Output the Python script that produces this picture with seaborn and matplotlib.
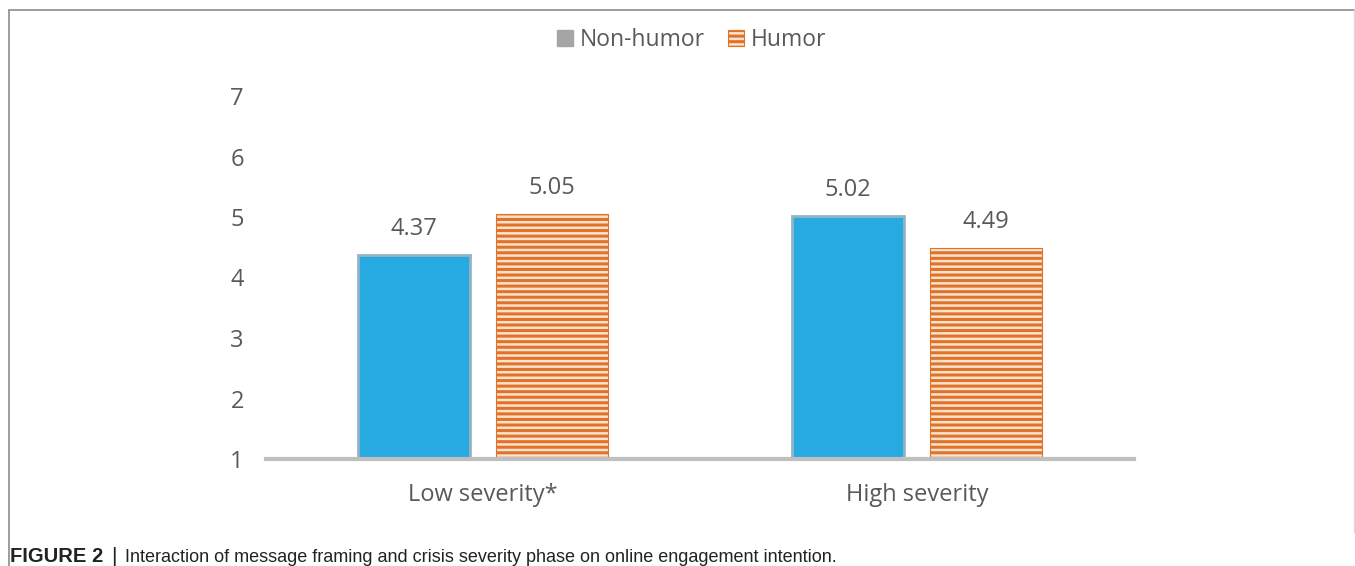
import matplotlib
matplotlib.use("Agg")
import matplotlib.pyplot as plt
import seaborn as sns
import pandas as pd
from matplotlib.patches import Patch
from matplotlib.lines import Line2D

categories = ["Low severity*", "High severity"]
series = ["Non-humor", "Humor"]
non_humor = [4.37, 5.02]
humor = [5.05, 4.49]
yticks = [1, 2, 3, 4, 5, 6, 7]
caption_bold = "FIGURE 2"
caption_text = "Interaction of message framing and crisis severity phase on online engagement intention."

df = pd.DataFrame({
    "severity": categories * 2,
    "framing": [series[0]] * 2 + [series[1]] * 2,
    "value": non_humor + humor,
})

sns.set_theme(style="white")
plt.rcParams["font.family"] = ["Open Sans", "DejaVu Sans"]
plt.rcParams["hatch.linewidth"] = 2.2

BLUE = "#27A9E1"
ORANGE = "#E0732A"
PEACH = "#FBE2CF"
TXT = "#595959"
FS = 17

fig = plt.figure(figsize=(13.55, 5.66), dpi=100)
ax = fig.add_axes([266 / 1355, 1 - 459 / 566, (1134 - 266) / 1355, (459 - 96) / 566])

sns.barplot(data=df, x="severity", y="value", hue="framing", order=categories,
            hue_order=series, palette=[BLUE, PEACH], width=0.636, gap=0.19,
            ax=ax, legend=False, saturation=1)

for bar in ax.containers[0]:
    bar.set_edgecolor("#94B4C4")
    bar.set_linewidth(2.0)
for bar in ax.containers[1]:
    bar.set_edgecolor(ORANGE)
    bar.set_hatch("---")
    bar.set_linewidth(0.8)

for cont in ax.containers:
    ax.bar_label(cont, labels=[f"{v:.2f}" for v in cont.datavalues], padding=10,
                 fontsize=FS, color=TXT)

ax.set_ylim(1, 7)
ax.set_xlim(-0.5, 1.5)
ax.set_yticks(yticks)
ax.set_yticklabels([str(t) for t in yticks])
ax.set_xlabel("")
ax.set_ylabel("")
ax.tick_params(axis="y", length=0, pad=16, labelsize=FS, labelcolor=TXT)
ax.tick_params(axis="x", length=0, pad=17, labelsize=FS, labelcolor=TXT)
for s in ["top", "right", "left"]:
    ax.spines[s].set_visible(False)
ax.spines["bottom"].set_color("#BFBFBF")
ax.spines["bottom"].set_linewidth(3)
ax.spines["bottom"].set_zorder(5)

handles = [Patch(facecolor="#A5A5A5", edgecolor="#A5A5A5", label=series[0]),
           Patch(facecolor=PEACH, edgecolor=ORANGE, hatch="---", linewidth=0.8, label=series[1])]
fig.legend(handles=handles, loc="center", bbox_to_anchor=(692 / 1355, 1 - 40 / 566), ncol=2,
           frameon=False, fontsize=16.5, labelcolor=TXT, handlelength=0.7, handleheight=0.7,
           handletextpad=0.3, columnspacing=1.0)

# figure frame
fig.add_artist(Line2D([9 / 1355, 9 / 1355], [0, 1 - 10 / 566], transform=fig.transFigure,
                      color="#8C8C8C", linewidth=1.2))
fig.add_artist(Line2D([9 / 1355, 1354 / 1355], [1 - 10 / 566, 1 - 10 / 566], transform=fig.transFigure,
                      color="#8C8C8C", linewidth=1.2))
fig.add_artist(Line2D([1354 / 1355, 1354 / 1355], [0.06, 1 - 10 / 566], transform=fig.transFigure,
                      color="#D9D9D9", linewidth=1.0))

cap_family = ["Liberation Sans", "DejaVu Sans"]
t1 = fig.text(10 / 1355, 1 - 562 / 566, caption_bold, fontsize=14.5, fontweight="bold",
              family=cap_family, color="#222222", va="baseline", ha="left")
fig.canvas.draw()
bb = t1.get_window_extent()
t2 = fig.text((bb.x1 + 8) / 1355, 1 - 562 / 566, "|", fontsize=15,
              family=cap_family, color="#222222", va="baseline", ha="left")
fig.canvas.draw()
bb2 = t2.get_window_extent()
fig.text((bb2.x1 + 8) / 1355, 1 - 562 / 566, caption_text, fontsize=13,
         family=cap_family, color="#222222", va="baseline", ha="left")

fig.savefig("out.png", dpi=100, facecolor="white")
